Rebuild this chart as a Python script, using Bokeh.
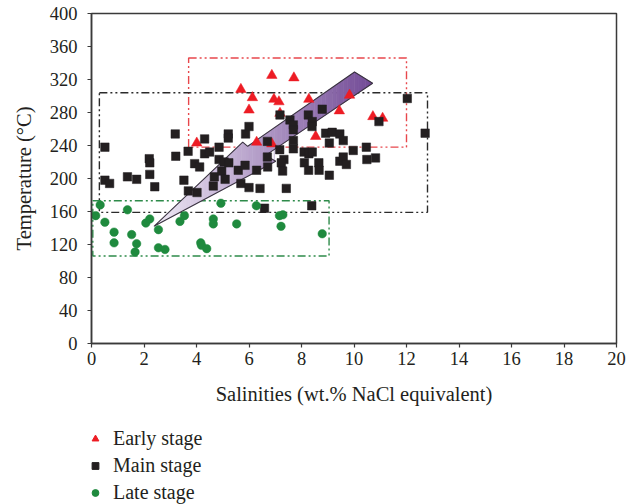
from bokeh.plotting import figure
from bokeh.layouts import column
from bokeh.models import Range1d, FixedTicker, Legend, LegendItem
from bokeh.embed import file_html
from bokeh.resources import INLINE

# ---------------- data ----------------
early_sal = [6.87, 7.71, 5.69, 6.13, 6.95, 7.14, 8.28, 9.83, 6.00, 9.44, 7.18,
             8.54, 4.01, 6.29, 6.87, 10.72, 11.09]
early_temp = [325, 322, 308, 298, 296, 293, 296, 301, 283, 282, 279,
              251, 243, 244, 242, 275, 273]

main_sal = [0.51, 0.51, 0.69, 1.37, 1.72, 2.20, 2.22, 2.22, 2.41, 3.19,
            3.21, 3.52, 3.68, 3.69, 3.93, 4.12, 4.02, 4.31, 4.31, 4.50,
            4.64, 4.68, 4.86, 4.86, 4.96, 5.05, 5.23, 5.09, 5.21, 5.21,
            5.59, 5.69, 5.87, 6.00, 5.85, 6.00, 6.29, 6.42, 6.59, 6.70,
            6.70, 6.71, 7.18, 7.56, 7.69, 7.69, 7.69, 7.69, 7.17, 7.33,
            7.23, 7.28, 7.42, 8.10, 8.28, 8.41, 8.11, 8.27, 8.66, 8.67,
            9.06, 8.39, 8.26, 8.41, 8.40, 8.79, 8.92, 9.17, 9.46, 9.06,
            9.59, 9.97, 10.47, 9.46, 9.59, 9.71, 10.49, 10.82, 10.95, 12.03,
            12.71]
main_temp = [238, 198, 194, 202, 199, 224, 219, 205, 190, 254,
             227, 198, 233, 185, 218, 214, 183, 248, 230, 232,
             191, 202, 238, 223, 209, 220, 219, 199, 254, 249,
             210, 194, 254, 263, 216, 189, 210, 188, 164, 245,
             226, 214, 277, 271, 265, 259, 246, 236, 235, 223,
             219, 209, 188, 232, 230, 232, 219, 210, 219, 210,
             204, 167, 277, 269, 263, 284, 255, 256, 254, 243,
             246, 234, 238, 221, 226, 217, 223, 225, 269, 297,
             255]

late_sal = [0.33, 0.16, 0.51, 0.86, 0.86, 1.37, 1.53, 1.72, 1.66, 2.07,
            2.22, 2.55, 2.55, 2.80, 3.37, 3.54, 4.16, 4.19, 4.39, 4.64,
            4.64, 4.93, 5.53, 6.28, 7.16, 7.29, 7.22, 8.79]
late_temp = [168, 155, 147, 135, 122, 162, 132, 121, 111, 146,
             151, 138, 116, 114, 148, 155, 122, 119, 115, 151,
             145, 170, 145, 167, 155, 156, 142, 133]

stage_labels = ["Early stage", "Main stage", "Late stage"]

# stage fields (dash-dot-dot boxes): early, main, late
box_left = [3.7, 0.3, 0.05]
box_right = [12.0, 12.8, 9.05]
box_bottom = [238, 159, 106]
box_top = [346, 304, 173]
box_colors = ["#e8474c", "#2b2b2b", "#2e8b4a"]

# evolution arrow outline
arrow_sal = [2.38, 5.76, 5.95, 10.02, 10.71, 6.63, 7.02]
arrow_temp = [142, 244, 239, 329, 315.5, 228, 221]

x_ticks = [0, 2, 4, 6, 8, 10, 12, 14, 16, 18, 20]
y_ticks = [0, 40, 80, 120, 160, 200, 240, 280, 320, 360, 400]

FONT = "Liberation Serif"
TXT = "#231f20"
RED, BLACK, GREEN = "#ed1c24", "#231f20", "#1f8a3e"

p = figure(frame_width=525, frame_height=330, output_backend="svg",
           toolbar_location=None,
           x_range=Range1d(0, 20), y_range=Range1d(0, 400),
           min_border_left=91, min_border_right=21, min_border_top=13,
           min_border_bottom=77)
p.xgrid.visible = False
p.ygrid.visible = False
p.outline_line_color = "#3a3a3a"
p.outline_line_width = 1.5
p.background_fill_color = "white"
p.border_fill_color = "white"

for ax in (p.xaxis[0], p.yaxis[0]):
    ax.axis_line_color = "#3a3a3a"
    ax.axis_line_width = 1.5
    ax.major_tick_line_color = "#3a3a3a"
    ax.major_tick_line_width = 1.2
    ax.major_tick_in = 0
    ax.major_tick_out = 4
    ax.minor_tick_line_color = None
    ax.major_label_text_font = FONT
    ax.major_label_text_font_size = "18.5px"
    ax.major_label_text_color = TXT
    ax.axis_label_text_font = FONT
    ax.axis_label_text_font_size = "20.5px"
    ax.axis_label_text_font_style = "normal"
    ax.axis_label_text_color = TXT

p.xaxis[0].ticker = FixedTicker(ticks=x_ticks)
p.yaxis[0].ticker = FixedTicker(ticks=y_ticks)
p.xaxis[0].axis_label = "Salinities (wt.% NaCl equivalent)"
p.yaxis[0].axis_label = "Temperature (°C)"
p.xaxis[0].major_label_standoff = 4
p.xaxis[0].axis_label_standoff = 15
p.yaxis[0].major_label_standoff = 10
p.yaxis[0].axis_label_standoff = 12

# ---- boxes ----
p.quad(left=box_left, right=box_right, bottom=box_bottom, top=box_top,
       fill_alpha=0, line_color=box_colors, line_width=1.4,
       line_dash="8 3 2 3 2 3")

# ---- arrow with gradient (vertical slices of the outline polygon) ----
poly = list(zip(arrow_sal, arrow_temp))


def _cut(pts, x0, keep_right):
    out = []
    n = len(pts)
    for i in range(n):
        cur, prev = pts[i], pts[i - 1]
        cin = cur[0] >= x0 if keep_right else cur[0] <= x0
        pin = prev[0] >= x0 if keep_right else prev[0] <= x0
        if cin != pin:
            t = (x0 - prev[0]) / (cur[0] - prev[0])
            out.append((x0, prev[1] + t * (cur[1] - prev[1])))
        if cin:
            out.append(cur)
    return out


c0 = (240, 234, 246)
c1 = (114, 74, 150)
xmin, xmax = min(arrow_sal), max(arrow_sal)
n_strips = 60
xs, ys, cols = [], [], []
for k in range(n_strips):
    a = xmin + (xmax - xmin) * k / n_strips
    b = xmin + (xmax - xmin) * (k + 1) / n_strips
    piece = _cut(_cut(poly, a, True), b + 0.01, False)
    if len(piece) < 3:
        continue
    t = (k + 0.5) / n_strips
    col = "#%02x%02x%02x" % tuple(int(round(c0[j] + (c1[j] - c0[j]) * t)) for j in range(3))
    xs.append([q[0] for q in piece])
    ys.append([q[1] for q in piece])
    cols.append(col)
p.patches(xs, ys, fill_color=cols, line_color=cols, line_width=0.4)
p.patch(arrow_sal + [arrow_sal[0]], arrow_temp + [arrow_temp[0]],
        fill_alpha=0, line_color="#3a3340", line_width=1.1)

# ---- points ----
p.scatter(early_sal, early_temp, marker="triangle", size=10.5,
          fill_color=RED, line_color=RED, line_width=0.5)
p.scatter(main_sal, main_temp, marker="square", size=8.5,
          fill_color=BLACK, line_color=BLACK, line_width=0.5)
p.scatter(late_sal, late_temp, marker="circle", size=8.5,
          fill_color=GREEN, line_color=GREEN, line_width=0.5)

# ---- legend (separate strip below the chart; frames are aligned) ----
lg = figure(width=637, height=84, output_backend="svg", toolbar_location=None,
            x_range=Range1d(0, 1), y_range=Range1d(0, 1),
            min_border_left=0, min_border_right=0, min_border_top=0,
            min_border_bottom=0)
lg.axis.visible = False
lg.grid.visible = False
lg.outline_line_color = None
# one off-range sample each, so that the legend can draw the glyphs
lg_e = lg.scatter([-5], [-5], marker="triangle", size=10,
                  fill_color=RED, line_color=RED)
lg_m = lg.scatter([-5], [-5], marker="square", size=8,
                  fill_color=BLACK, line_color=BLACK)
lg_l = lg.scatter([-5], [-5], marker="circle", size=8,
                  fill_color=GREEN, line_color=GREEN)
legend = Legend(items=[LegendItem(label=stage_labels[0], renderers=[lg_e]),
                       LegendItem(label=stage_labels[1], renderers=[lg_m]),
                       LegendItem(label=stage_labels[2], renderers=[lg_l])],
                location=(-6, 0), orientation="vertical",
                label_text_font=FONT, label_text_font_size="20px",
                label_text_color=TXT, glyph_width=20, glyph_height=17,
                label_height=22, label_standoff=8, spacing=4, padding=0,
                margin=0, border_line_color=None, background_fill_alpha=0)
lg.add_layout(legend, "center")

layout = column(p, lg, spacing=0)
open("out.html", "w").write(file_html(layout, INLINE))
